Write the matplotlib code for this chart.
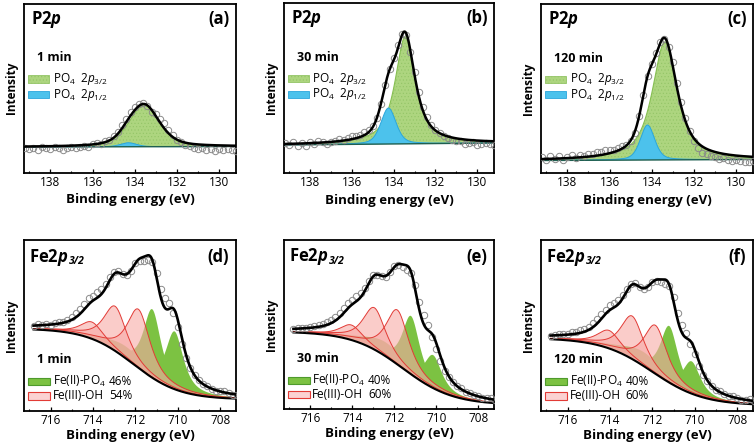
import numpy as np
import matplotlib.pyplot as plt
from matplotlib.patches import Rectangle
from matplotlib.ticker import MultipleLocator

plt.rcParams['font.family'] = ['Open Sans', 'DejaVu Sans']
plt.rcParams['mathtext.fontset'] = 'custom'
plt.rcParams['mathtext.rm'] = 'Open Sans'
plt.rcParams['mathtext.it'] = 'Open Sans:italic'
plt.rcParams['mathtext.bf'] = 'Open Sans:bold'
plt.rcParams['mathtext.bfit'] = 'Open Sans:bold:italic'
plt.rcParams['hatch.linewidth'] = 0.4

# ---------------- P 2p (a)-(c) ----------------
p_times = ['1 min', '30 min', '120 min']
p_tags = ['(a)', '(b)', '(c)']
p_base_left = [0.0, 0.0, 0.0]
p_base_right = [0.5, 2.0, 1.0]
p32_pos = [133.55, 133.45, 133.38]
p32_height = [42, 107, 118]
p32_fwhm = [1.7, 1.15, 1.4]
p32_eta = [0.5, 0.85, 0.8]
p12_pos = [134.3, 134.25, 134.2]
p12_height = [4, 36, 35]
p12_fwhm = [0.9, 0.85, 0.8]
p12_eta = [0.3, 0.4, 0.4]
p_step_energy = np.linspace(139.2, 129.2, 51)   # measured points (eV)
# measured minus fit, read off the picture
p_resid = [
    [-1, -3, -2, -4, -1, -2, -3, -1, -2, -4, -2, -1, -3, -2, -1, -2,
     0, 1, -1, 1, 0, 2, 2, 3, 3, 4, 3, 2, 1, -1, -2, 2, 4, 5, 3,
     2, 0, -1, -2, -3, -4, -5, -3, -5, -4, -6, -4, -5, -3, -4, -5],
    [1, -1, 2, -2, 0, -3, 1, -1, 2, 0, -2, 0, 1, 2, 1, 2, 3, 2,
     2, 3, 2, 1, 0, -1, 0, 1, 2, 3, 1, -2, -1, 3, 4, 4, 3, 2,
     1, 0, -1, -2, -2, -3, -2, -4, -3, -2, -4, -3, -2, -3, -4],
    [2, -1, 3, 0, 2, -2, 1, 3, 0, 2, 1, 3, 2, 4, 3, 4, 3, 2,
     3, 2, 1, 0, -1, 0, 1, 0, 1, 2, 1, -1, 0, 4, 5, 5, 3, 0,
     -3, -5, -6, -5, -5, -5, -6, -4, -5, -6, -4, -5, -6, -5, -4],
]

# ---------------- Fe 2p3/2 (d)-(f) ----------------
fe_times = ['1 min', '30 min', '120 min']
fe_tags = ['(d)', '(e)', '(f)']
fe2_share = ['46%', '40%', '40%']
fe3_share = ['54%', '60%', '60%']
fe_bg_high = [82.5, 77.5, 73.0]
fe_bg_low = [11.5, 4.0, 5.5]
fe_bg_mid = [712.1, 711.6, 712.0]
fe_bg_width = [1.1, 1.2, 1.2]
fe3_pos = [714.05, 712.95, 711.85]          # Fe(III)-OH multiplet
fe3_height = [[16.8, 44.6, 58.7], [15, 41.8, 54.4], [18, 43, 48.5]]
fe3_fwhm = [1.3, 1.3, 1.3]
fe2_pos = [711.2, 710.15, 712.4]            # Fe(II)-PO4 multiplet
fe2_height = [[68.5, 57.8, 12], [58.3, 33, 14], [56.6, 32.3, 14]]
fe2_fwhm = [1.0, 1.0, 2.4]
fe_eta = 0.8
fe_step_energy = np.linspace(716.8, 707.2, 49)
fe_resid = [
    [0, 1, 0, 1, 0, 1, 2, 1, 2, 3, 4, 5, 5, 6, 5, 6, 5, 4, 3,
     2, 1, 0, -1, -1, 0, -2, -4, -5, -2, 4, 8, 10, 6,
     -4, -8, -6, -3, -1, 0, 1, 0, 1, 0, -1, 0, 1, 0, -1, 0],
    [0, 1, 0, 0, 1, 1, 2, 2, 3, 3, 4, 4, 5, 5, 4, 5, 4, 3, 2,
     1, 0, 0, -1, 0, 1, -1, -3, -4, -1, 5, 8, 9, 5,
     -3, -6, -5, -3, -1, 0, 0, 1, 0, 1, 0, 0, -1, 0, 1, 0],
    [0, 0, 1, 1, 1, 2, 2, 3, 3, 3, 4, 4, 5, 4, 5, 4, 4, 3, 2,
     1, 1, 0, -1, -1, 0, -1, -3, -4, -1, 4, 7, 8, 5,
     -3, -5, -4, -2, -1, 0, 0, 1, 0, 0, 1, 0, -1, 0, 1, 0],
]

# axes boxes in pixels: left, top, right, bottom
W, H = 756, 443
boxes_top = [(24, 4, 236, 172.5), (284, 3, 494, 173), (541, 4, 753, 173)]
boxes_bot = [(24, 240, 236, 411), (284, 240, 494, 409), (541, 240, 753, 411)]
p_offset = [25.5, 28, 12.5]


def pv(x, c, h, w, eta):
    d = (x - c) / (w / 2.0)
    return h * (eta / (1 + d ** 2) + (1 - eta) * np.exp(-np.log(2) * d ** 2))


def make_ax(fig, box, xpad):
    l, t, r, b = box
    ax = fig.add_axes([l / W, 1 - b / H, (r - l) / W, (b - t) / H])
    for s in ax.spines.values():
        s.set_linewidth(1.3)
    ax.set_yticks([])
    ax.xaxis.set_major_locator(MultipleLocator(2))
    ax.xaxis.set_minor_locator(MultipleLocator(1))
    ax.tick_params(axis='x', which='major', direction='in', length=3, width=0.9,
                   labelsize=8.5, pad=2.5)
    ax.tick_params(axis='x', which='minor', direction='in', length=1.8, width=0.8)
    ax.set_xlabel('Binding energy (eV)', fontsize=9.5, fontweight='bold', labelpad=xpad)
    ax.set_ylabel('Intensity', fontsize=8.5, fontweight='bold', labelpad=4)
    return ax


fig = plt.figure(figsize=(W / 100, H / 100), dpi=100)

green_p = '#add57f'
blue_p = '#4cc2ec'

for i in range(3):
    ax = make_ax(fig, boxes_top[i], 3)
    xl, xr = 139.25, 129.2
    ax.set_xlim(xl, xr)
    hgt = boxes_top[i][3] - boxes_top[i][1]
    ax.set_ylim(-p_offset[i], hgt - p_offset[i])
    xf = np.linspace(xl, xr, 800)

    def base(x):
        return p_base_left[i] + (p_base_right[i] - p_base_left[i]) * (xl - x) / (xl - xr)

    g = pv(xf, p32_pos[i], p32_height[i], p32_fwhm[i], p32_eta[i])
    bl = pv(xf, p12_pos[i], p12_height[i], p12_fwhm[i], p12_eta[i])
    ax.fill_between(xf, base(xf), base(xf) + g, facecolor=green_p, edgecolor='#93c466',
                    hatch='.....', linewidth=0, zorder=1)
    ax.plot(xf, base(xf) + g, color='#86bf52', lw=0.8, zorder=1.5)
    ax.fill_between(xf, base(xf), base(xf) + bl, facecolor=blue_p, linewidth=0, zorder=2)
    ax.plot(xf, base(xf) + bl, color='#2aa6dc', lw=0.7, zorder=2.1)
    ax.plot(xf, base(xf), color='#1f5f50', lw=1.0, zorder=2.5)

    xs = p_step_energy
    fit_s = base(xs) + pv(xs, p32_pos[i], p32_height[i], p32_fwhm[i], p32_eta[i]) \
        + pv(xs, p12_pos[i], p12_height[i], p12_fwhm[i], p12_eta[i])
    ax.plot(xs, fit_s + np.array(p_resid[i]), 'o', mfc='none', mec='#8a8a8a', ms=4.6,
            mew=0.7, zorder=3)
    ax.plot(xf, base(xf) + g + bl, color='black', lw=1.8, zorder=4)

    ax.text(0.035, 0.91, 'P2$\\mathbfit{p}$', transform=ax.transAxes, fontsize=12,
            fontweight='bold', va='center', ha='left')
    ax.text(0.97, 0.91, p_tags[i], transform=ax.transAxes, fontsize=12,
            fontweight='bold', va='center', ha='right')
    ax.text(0.06, 0.68, p_times[i], transform=ax.transAxes, fontsize=9,
            fontweight='bold', va='center', ha='left')
    ax.add_patch(Rectangle((0.02, 0.534), 0.1, 0.042, transform=ax.transAxes,
                           facecolor=green_p, edgecolor='#93c466', hatch='.....', lw=0.6))
    ax.add_patch(Rectangle((0.02, 0.441), 0.1, 0.042, transform=ax.transAxes,
                           facecolor=blue_p, edgecolor='#2aa6dc', lw=0.6))
    ax.text(0.135, 0.555, 'PO$_4$  2$\\mathit{p}_{\\mathit{3/2}}$', transform=ax.transAxes,
            fontsize=8.5, va='center', ha='left')
    ax.text(0.135, 0.462, 'PO$_4$  2$\\mathit{p}_{\\mathit{1/2}}$', transform=ax.transAxes,
            fontsize=8.5, va='center', ha='left')

green_f = '#7cc242'
pink_f = '#f7aaa6'
red_e = '#e23b36'

for i in range(3):
    ax = make_ax(fig, boxes_bot[i], 1)
    xl, xr = 717.25, 707.25
    ax.set_xlim(xl, xr)
    hgt = boxes_bot[i][3] - boxes_bot[i][1]
    ax.set_ylim(0, hgt)
    xf = np.linspace(716.8, xr, 800)

    def bgf(x):
        return fe_bg_low[i] + (fe_bg_high[i] - fe_bg_low[i]) / (
            1 + np.exp(-(x - fe_bg_mid[i]) / fe_bg_width[i]))

    def comps(x):
        fe2 = [pv(x, fe2_pos[k], fe2_height[i][k], fe2_fwhm[k], fe_eta) for k in range(3)]
        fe3 = [pv(x, fe3_pos[k], fe3_height[i][k], fe3_fwhm[k], fe_eta) for k in range(3)]
        return fe2, fe3

    bg = bgf(xf)
    fe2, fe3 = comps(xf)
    env = bg + sum(fe2) + sum(fe3)
    for gk in fe2:
        ax.fill_between(xf, bg, bg + gk, facecolor=green_f, linewidth=0, zorder=1)
    for pk in fe3:
        ax.fill_between(xf, bg, bg + pk, facecolor=pink_f, alpha=0.6, linewidth=0, zorder=2)
        ax.plot(xf, bg + pk, color=red_e, lw=0.7, zorder=2.2)
    ax.plot(xf, bg, color='black', lw=1.5, zorder=2.5)

    xs = fe_step_energy
    s2, s3 = comps(xs)
    fit_s = bgf(xs) + sum(s2) + sum(s3)
    ax.plot(xs, fit_s + np.array(fe_resid[i]), 'o', mfc='none', mec='#8a8a8a', ms=4.6,
            mew=0.7, zorder=3)
    ax.plot(xf, env, color='black', lw=1.9, zorder=4)

    t = ax.text(0.025, 0.9, 'Fe2$\\mathbfit{p}$', transform=ax.transAxes,
                fontsize=12, fontweight='bold', va='center', ha='left')
    ax.annotate('3/2', xy=(1.0, 0.0), xycoords=t, xytext=(0.3, 0.5),
                textcoords='offset points', fontsize=7.5, fontweight='bold',
                style='italic', va='bottom', ha='left')
    ax.text(0.967, 0.9, fe_tags[i], transform=ax.transAxes, fontsize=12,
            fontweight='bold', va='center', ha='right')
    ax.text(0.06, 0.30, fe_times[i], transform=ax.transAxes, fontsize=9,
            fontweight='bold', va='center', ha='left')
    ax.add_patch(Rectangle((0.02, 0.15), 0.103, 0.042, transform=ax.transAxes,
                           facecolor=green_f, edgecolor='#4e9a2c', lw=0.8))
    ax.add_patch(Rectangle((0.02, 0.067), 0.103, 0.042, transform=ax.transAxes,
                           facecolor='#fbd2d2', edgecolor=red_e, lw=0.8))
    ax.text(0.135, 0.17, 'Fe(II)-PO$_4$', transform=ax.transAxes, fontsize=8.5,
            va='center', ha='left')
    ax.text(0.40, 0.17, fe2_share[i], transform=ax.transAxes, fontsize=8.5,
            va='center', ha='left')
    ax.text(0.135, 0.088, 'Fe(III)-OH', transform=ax.transAxes, fontsize=8.5,
            va='center', ha='left')
    ax.text(0.40, 0.088, fe3_share[i], transform=ax.transAxes, fontsize=8.5,
            va='center', ha='left')

fig.savefig('out.png', dpi=100)
